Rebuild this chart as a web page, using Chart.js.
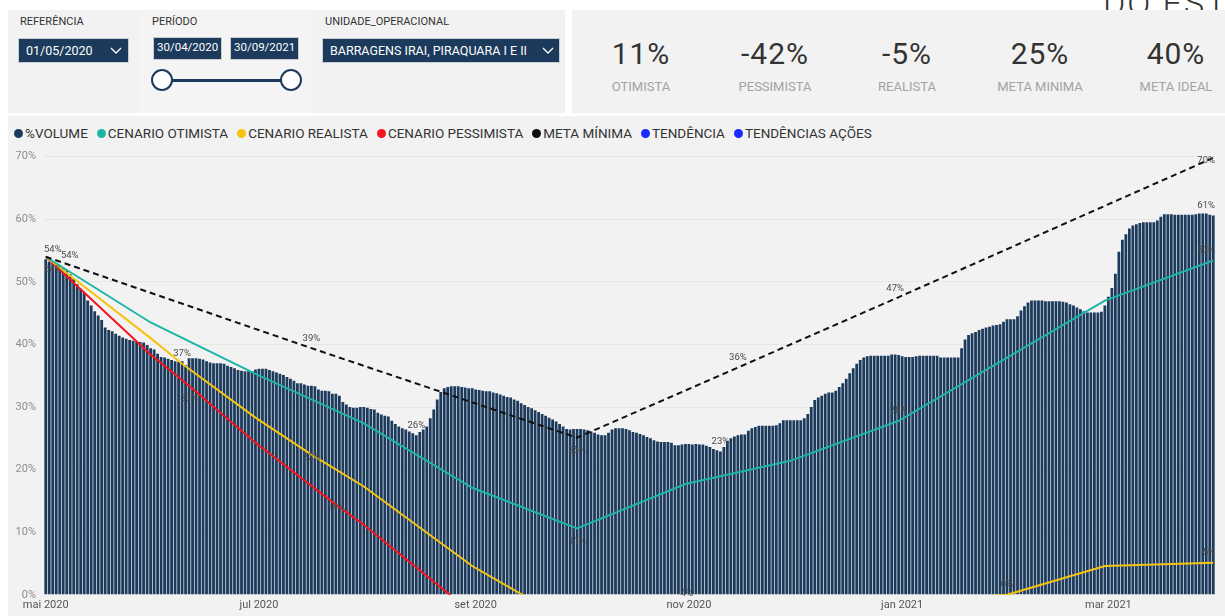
<!DOCTYPE html>
<html lang="pt-BR">
<head>
<meta charset="utf-8">
<script src="https://cdn.jsdelivr.net/npm/chart.js@4.4.1/dist/chart.umd.min.js"></script>
<style>
  html, body { margin: 0; padding: 0; }
  body { width: 1225px; height: 616px; overflow: hidden; position: relative; background: #fff; font-family: Roboto, "Open Sans", sans-serif; color: #333; }
  .painel { position: absolute; background: #f2f2f2; }
  .abs { position: absolute; white-space: nowrap; }
  .rotulo-filtro { font-size: 11px; color: #333; }
  .caixa { position: absolute; background: #1b3a5c; color: #fff; box-sizing: border-box; border: 1px solid #c9ced4; }
  .alca { position: absolute; width: 22px; height: 22px; box-sizing: border-box; border: 2.5px solid #1b3a5c; border-radius: 50%; background: #fff; }
  .kpi { position: absolute; width: 130px; text-align: center; }
  .kpi .valor { font-size: 30px; letter-spacing: 1px; color: #333; line-height: 30px; }
  .kpi .nome { font-size: 13px; color: #a3a3a3; margin-top: 10px; }
  #titulo { position: absolute; left: 1103px; top: -17px; font-size: 34px; letter-spacing: 2px; font-weight: 300; color: #333; white-space: nowrap; }
  #legenda { position: absolute; left: 14px; top: 125px; display: flex; font-size: 13.5px; color: #333; }
  #legenda .item { display: flex; align-items: center; margin-right: 9px; }
  #legenda .bola { width: 9px; height: 9px; border-radius: 50%; margin-right: 2px; }
  #area { position: absolute; left: 8px; top: 142px; width: 1217px; height: 474px; }
</style>
</head>
<body>
<div id="titulo">DO ESTADO</div>

<div class="painel" style="left:8px;top:10px;width:131px;height:103px"></div>
<div class="painel" style="left:139px;top:10px;width:174px;height:103px;background:#f4f4f4"></div>
<div class="painel" style="left:313px;top:10px;width:252px;height:103px"></div>
<div class="painel" style="left:572px;top:10px;width:653px;height:103px"></div>
<div class="painel" style="left:8px;top:116px;width:1217px;height:500px"></div>

<div class="abs rotulo-filtro" style="left:20px;top:15px">REFERÊNCIA</div>
<div class="caixa" style="left:18px;top:38px;width:111px;height:25px">
  <span class="abs" style="left:7px;top:4px;font-size:12.5px">01/05/2020</span>
  <svg class="abs" style="left:91px;top:8px" width="12" height="8"><polyline points="1,1 6,6 11,1" fill="none" stroke="#fff" stroke-width="1.3"/></svg>
</div>

<div class="abs rotulo-filtro" style="left:152px;top:15px">PERÍODO</div>
<div class="caixa" style="left:153px;top:37px;width:69px;height:23px">
  <span class="abs" style="left:3px;top:2px;font-size:11.5px">30/04/2020</span>
</div>
<div class="caixa" style="left:230px;top:37px;width:69px;height:23px">
  <span class="abs" style="left:3px;top:2px;font-size:11.5px">30/09/2021</span>
</div>
<div class="abs" style="left:162px;top:79px;width:129px;height:3px;background:#1b3a5c"></div>
<div class="alca" style="left:151px;top:69px"></div>
<div class="alca" style="left:280px;top:69px"></div>

<div class="abs rotulo-filtro" style="left:325px;top:15px">UNIDADE_OPERACIONAL</div>
<div class="caixa" style="left:322px;top:38px;width:238px;height:25px">
  <span class="abs" style="left:7px;top:4px;font-size:12.5px">BARRAGENS IRAI, PIRAQUARA I E II</span>
  <svg class="abs" style="left:219px;top:8px" width="12" height="8"><polyline points="1,1 6,6 11,1" fill="none" stroke="#fff" stroke-width="1.3"/></svg>
</div>

<div class="kpi" style="left:576px;top:39px"><div class="valor">11%</div><div class="nome">OTIMISTA</div></div>
<div class="kpi" style="left:710px;top:39px"><div class="valor">-42%</div><div class="nome">PESSIMISTA</div></div>
<div class="kpi" style="left:842px;top:39px"><div class="valor">-5%</div><div class="nome">REALISTA</div></div>
<div class="kpi" style="left:975px;top:39px"><div class="valor">25%</div><div class="nome">META MINIMA</div></div>
<div class="kpi" style="left:1111px;top:39px"><div class="valor">40%</div><div class="nome">META IDEAL</div></div>

<div id="legenda">
  <div class="item"><span class="bola" style="background:#1b3a5c"></span>%VOLUME</div>
  <div class="item"><span class="bola" style="background:#1cb5a6"></span>CENARIO OTIMISTA</div>
  <div class="item"><span class="bola" style="background:#f4c40f"></span>CENARIO REALISTA</div>
  <div class="item"><span class="bola" style="background:#f5141e"></span>CENARIO PESSIMISTA</div>
  <div class="item"><span class="bola" style="background:#111"></span>META MÍNIMA</div>
  <div class="item"><span class="bola" style="background:#1a2bff"></span>TENDÊNCIA</div>
  <div class="item"><span class="bola" style="background:#1a2bff"></span>TENDÊNCIAS AÇÕES</div>
</div>

<div id="area"><canvas id="grafico"></canvas></div>

<script>
// %VOLUME diario, de 01/05/2020 a 31/03/2021
const volume = [
  53.6, 53.2, 53.0, 52.9, 52.6, 52.2, 51.8, 51.2, 50.5, 49.6,
  48.9, 48.2, 47.0, 46.2, 45.3, 44.6, 43.9, 42.7, 42.3, 42.1,
  41.7, 41.4, 41.1, 40.9, 40.7, 40.6, 40.5, 40.4, 40.3, 39.9,
  39.4, 39.2, 38.5, 38.0, 37.9, 37.7, 37.5, 37.3, 37.2, 37.3,
  36.7, 37.8, 37.8, 37.8, 37.7, 37.6, 37.3, 37.1, 37.0, 37.0,
  37.0, 36.9, 36.6, 36.4, 36.2, 35.9, 35.8, 35.7, 35.7, 35.7,
  36.0, 36.1, 36.1, 36.1, 35.9, 35.7, 35.5, 35.3,
  35.1, 34.8, 34.5, 34.2, 33.8, 33.8, 33.6, 33.4, 33.4, 33.3,
  32.8, 32.6, 32.6, 32.5, 32.1, 32.1, 31.8, 30.8, 30.4, 30.0,
  29.9, 29.9, 30.0, 30.0, 29.9, 29.7, 29.6, 29.1, 28.8, 28.6,
  28.5, 27.8, 27.3, 26.9, 26.6, 26.4, 26.1, 25.8, 25.5, 26.0,
  26.4, 26.9, 28.2, 29.6, 31.2, 32.4, 33.0, 33.2, 33.3, 33.3,
  33.3, 33.2, 33.1, 33.0, 33.0, 32.8, 32.7, 32.6, 32.5, 32.5,
  32.3, 32.2, 32.0, 31.8, 31.6, 31.5, 31.2, 31.0,
  30.6, 30.3, 30.0, 29.8, 29.5, 29.2, 28.9, 28.6, 28.3, 28.0,
  27.7, 27.3, 26.9, 26.5, 26.4, 26.5, 26.5, 26.5, 26.4, 26.3,
  26.1, 25.9, 25.6, 25.5, 25.5, 25.9, 26.4, 26.6, 26.6, 26.6,
  26.5, 26.3, 26.0, 25.9, 25.7, 25.5, 25.2, 25.0, 24.7, 24.5,
  24.4, 24.4, 24.4, 24.3, 23.9, 23.9, 24.0, 24.1, 24.1, 24.0,
  24.1, 24.0, 24.0, 23.8, 23.6, 23.3, 23.1, 22.9, 23.6, 24.6,
  25.0, 25.3, 25.5, 25.6, 25.6, 26.2, 26.6, 26.8, 27.0,
  27.0, 27.0, 27.0, 27.0, 27.1, 27.4, 27.9, 27.9, 27.9, 27.9,
  27.9, 27.9, 28.2, 28.9, 30.0, 31.1, 31.5, 31.8, 32.1, 32.3,
  32.3, 32.6, 33.2, 33.8, 34.5, 35.4, 36.2, 36.9, 37.5, 37.9,
  38.1, 38.2, 38.2, 38.2, 38.2, 38.2, 38.2, 38.4, 38.4, 38.3,
  38.1, 38.0, 38.0, 38.0, 38.1, 38.2, 38.2, 38.2, 38.2, 38.2,
  38.2, 37.9, 37.9, 37.9, 37.9, 37.9, 37.9, 39.4, 40.8, 41.5,
  41.8, 42.0, 42.3, 42.5, 42.7, 42.8, 43.0, 43.1, 43.2,
  43.6, 44.0, 44.0, 44.0, 44.5, 45.4, 46.1, 46.7, 47.0, 47.0,
  47.0, 47.0, 46.9, 46.9, 46.9, 46.9, 46.9, 46.8, 46.7, 46.4,
  46.2, 45.9, 45.6, 45.3, 45.1, 45.1, 45.1, 45.1, 45.2, 46.2,
  47.6, 49.0, 51.3, 54.8, 56.7, 57.6, 58.5, 59.0, 59.2, 59.4,
  59.5, 59.5, 59.5, 59.5, 59.8, 60.4, 60.8, 60.8, 60.8, 60.7,
  60.7, 60.7, 60.7, 60.7, 60.7, 60.8, 60.9, 60.9, 60.9, 60.7,
  60.6
];

const datasOtimista = ['2020-05-01', '2020-05-31', '2020-06-30', '2020-07-31', '2020-08-31', '2020-09-30', '2020-10-31', '2020-11-30', '2020-12-31', '2021-02-28', '2021-03-31'];
const otimista = [54.0, 43.5, 35.3, 27.4, 17.1, 10.6, 17.7, 21.4, 27.8, 47.0, 53.4];

const datasRealista = ['2020-05-01', '2020-05-31', '2020-06-09', '2020-06-30', '2020-07-16', '2020-07-31', '2020-08-31', '2020-09-30', '2020-10-31', '2021-01-31', '2021-02-28', '2021-03-31'];
const realista = [54.0, 41.0, 36.9, 28.3, 22.4, 17.3, 4.6, -5.0, -4.0, 0.0, 4.6, 5.1];

const datasPessimista = ['2020-05-01', '2020-05-31', '2020-06-11', '2020-06-30', '2020-07-23', '2020-07-31', '2020-08-31', '2020-09-30'];
const pessimista = [54.0, 38.4, 33.4, 24.3, 14.4, 11.2, -2.9, -42.0];

const datasMeta = ['2020-05-01', '2020-07-16', '2020-09-30', '2020-11-15', '2020-12-30', '2021-03-31'];
const metaMinima = [54.0, 39.4, 25.1, 36.3, 47.3, 69.8];

const ticksY = [0, 10, 20, 30, 40, 50, 60, 70];
const mesesAbrev = ['jan', 'fev', 'mar', 'abr', 'mai', 'jun', 'jul', 'ago', 'set', 'out', 'nov', 'dez'];

// rotulos de dados mostrados no grafico
const rotulos = [
  { serie: '%VOLUME', data: '2020-05-01', pos: 'acima' },
  { serie: '%VOLUME', data: '2020-08-15', pos: 'acima' },
  { serie: '%VOLUME', data: '2020-11-10', pos: 'acima' },
  { serie: '%VOLUME', data: '2021-03-31', pos: 'acima' },
  { serie: 'CENARIO OTIMISTA', data: '2020-05-01', pos: 'direita' },
  { serie: 'CENARIO OTIMISTA', data: '2020-09-30', pos: 'abaixo' },
  { serie: 'CENARIO OTIMISTA', data: '2020-12-31', pos: 'acima' },
  { serie: 'CENARIO OTIMISTA', data: '2021-03-31', pos: 'acima' },
  { serie: 'CENARIO REALISTA', data: '2020-06-09', pos: 'acima' },
  { serie: 'CENARIO REALISTA', data: '2020-07-16', pos: 'sobre' },
  { serie: 'CENARIO REALISTA', data: '2020-10-31', pos: 'sobre' },
  { serie: 'CENARIO REALISTA', data: '2021-01-31', pos: 'acima' },
  { serie: 'CENARIO REALISTA', data: '2021-03-31', pos: 'acima' },
  { serie: 'CENARIO PESSIMISTA', data: '2020-05-01', pos: 'abaixo' },
  { serie: 'CENARIO PESSIMISTA', data: '2020-06-11', pos: 'abaixo' },
  { serie: 'CENARIO PESSIMISTA', data: '2020-07-23', pos: 'sobre' },
  { serie: 'META MÍNIMA', data: '2020-07-16', pos: 'acima' },
  { serie: 'META MÍNIMA', data: '2020-09-30', pos: 'abaixo' },
  { serie: 'META MÍNIMA', data: '2020-11-15', pos: 'acima' },
  { serie: 'META MÍNIMA', data: '2020-12-30', pos: 'acima' },
  { serie: 'META MÍNIMA', data: '2021-03-31', pos: 'sobre' }
];

function formataData(d) {
  const m = String(d.getMonth() + 1).padStart(2, '0');
  const dia = String(d.getDate()).padStart(2, '0');
  return d.getFullYear() + '-' + m + '-' + dia;
}

const dias = [];
for (let i = 0; i < volume.length; i++) {
  dias.push(formataData(new Date(2020, 4, 1 + i)));
}

function pontos(datas, valores) {
  return datas.map((d, i) => ({ x: d, y: valores[i] }));
}

const rotulosPlugin = {
  id: 'rotulos',
  afterDatasetsDraw(chart) {
    const ctx = chart.ctx;
    const area = chart.chartArea;
    ctx.save();
    ctx.font = '9.5px Roboto';
    ctx.fillStyle = '#4a4a4a';
    ctx.textAlign = 'center';
    ctx.textBaseline = 'middle';
    rotulos.forEach(r => {
      const idx = chart.data.datasets.findIndex(d => d.label === r.serie);
      const ds = chart.data.datasets[idx];
      const meta = chart.getDatasetMeta(idx);
      let i, valor;
      if (ds.type === 'line') {
        i = ds.data.findIndex(p => p.x === r.data);
        valor = ds.data[i].y;
      } else {
        i = dias.indexOf(r.data);
        valor = ds.data[i];
      }
      const el = meta.data[i];
      if (!el) return;
      const texto = Math.round(valor) + '%';
      const w = ctx.measureText(texto).width;
      let x = el.x;
      let y = el.y;
      if (r.pos === 'acima') y -= 10;
      if (r.pos === 'abaixo') y += 13;
      if (r.pos === 'direita') { x += 24; y -= 1; }
      if (r.pos === 'sobre') y += 3;
      x = Math.max(area.left + w / 2, Math.min(area.right - w / 2, x));
      y = Math.max(area.top + 4, Math.min(area.bottom - 1, y));
      ctx.fillText(texto, x, y);
    });
    ctx.restore();
  }
};

Chart.defaults.font.family = 'Roboto';

const ctx = document.getElementById('grafico').getContext('2d');
const grafico = new Chart(ctx, {
  type: 'bar',
  data: {
    labels: dias,
    datasets: [
      {
        type: 'line',
        label: 'META MÍNIMA',
        data: pontos(datasMeta, metaMinima),
        borderColor: '#111111',
        borderWidth: 2,
        borderDash: [6, 4],
        pointRadius: 0,
        spanGaps: true,
        order: 1
      },
      {
        type: 'line',
        label: 'CENARIO OTIMISTA',
        data: pontos(datasOtimista, otimista),
        borderColor: '#1cb5a6',
        borderWidth: 2,
        pointRadius: 0,
        order: 2
      },
      {
        type: 'line',
        label: 'CENARIO REALISTA',
        data: pontos(datasRealista, realista),
        borderColor: '#f4c40f',
        borderWidth: 2,
        pointRadius: 0,
        order: 3
      },
      {
        type: 'line',
        label: 'CENARIO PESSIMISTA',
        data: pontos(datasPessimista, pessimista),
        borderColor: '#f5141e',
        borderWidth: 2,
        pointRadius: 0,
        order: 4
      },
      {
        type: 'bar',
        label: '%VOLUME',
        data: volume,
        backgroundColor: '#1b3a5c',
        barPercentage: 0.8,
        categoryPercentage: 1.0,
        order: 10
      }
    ]
  },
  options: {
    responsive: true,
    maintainAspectRatio: false,
    animation: false,
    layout: { padding: { top: 7, right: 10, bottom: 0, left: 0 } },
    scales: {
      x: {
        offset: true,
        grid: { display: false, drawTicks: false },
        border: { display: false },
        ticks: {
          autoSkip: false,
          maxRotation: 0,
          padding: 4,
          color: '#555',
          font: { size: 11 },
          callback: function (value) {
            const partes = dias[value].split('-');
            const mes = Number(partes[1]);
            if (partes[2] === '01' && mes % 2 === 1) {
              return mesesAbrev[mes - 1] + ' ' + partes[0];
            }
            return null;
          }
        }
      },
      y: {
        min: 0,
        max: 70,
        afterFit: function (scale) { scale.width = 36; },
        afterBuildTicks: function (scale) { scale.ticks = ticksY.map(v => ({ value: v })); },
        grid: { color: '#e6e6e6', drawTicks: false },
        border: { display: false },
        ticks: {
          padding: 8,
          color: '#8c8c8c',
          font: { size: 11 },
          callback: v => v + '%'
        }
      }
    },
    plugins: {
      legend: { display: false },
      tooltip: { enabled: false }
    }
  },
  plugins: [rotulosPlugin]
});
</script>
</body>
</html>
